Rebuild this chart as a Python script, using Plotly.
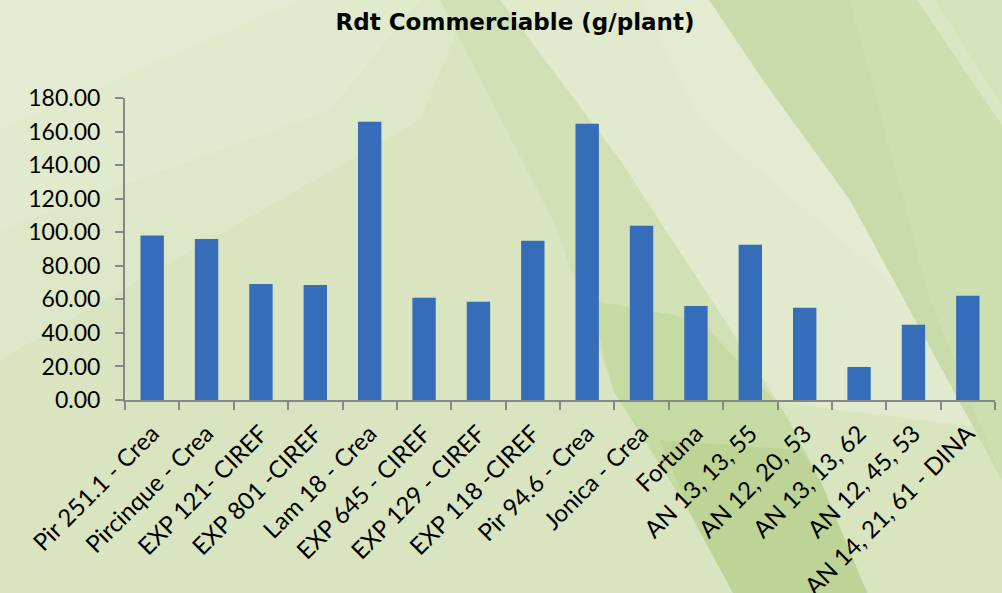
import plotly.graph_objects as go

varieties = [
    "Pir 251.1 - Crea", "Pircinque - Crea", "EXP 121- CIREF", "EXP 801 -CIREF",
    "Lam 18 - Crea", "EXP 645 - CIREF", "EXP 129 - CIREF", "EXP 118 -CIREF",
    "Pir 94.6 - Crea", "Jonica - Crea", "Fortuna", "AN 13, 13, 55",
    "AN 12, 20, 53", "AN 13, 13, 62", "AN 12, 45, 53", "AN 14, 21, 61 - DINA",
]
rdt = [98.0, 96.0, 69.2, 68.6, 165.9, 60.9, 58.5, 94.9,
       164.7, 103.8, 56.1, 92.5, 55.0, 19.7, 44.8, 62.1]

W, H = 1002, 593
L, R, T, B = 125, 7, 98, 193
pw, ph = W - L - R, H - T - B


def to_paper(pts):
    # pixel coords -> paper coords, used only for the background decoration
    return [((x - L) / pw, (H - B - y) / ph) for x, y in pts]


def band(pts, color):
    pp = to_paper(pts)
    path = "M " + " L ".join(f"{x:.4f},{y:.4f}" for x, y in pp) + " Z"
    return dict(type="path", path=path, xref="paper", yref="paper",
                fillcolor=color, line=dict(width=0), layer="below")


shapes = [
    # left part, lighter toward the top-left corner
    band([(0, 0), (470, 0), (420, 120), (0, 360)], "#dde8c8"),
    band([(0, 0), (420, 0), (330, 110), (0, 230)], "#e0eacd"),
    band([(0, 0), (300, 0), (0, 130)], "#e3ecd2"),
    # light middle band
    band([(480, 0), (709, 0), (763, 80), (850, 200), (1002, 480), (1002, 593),
          (867, 593), (820, 480), (783, 410), (620, 160), (560, 80)], "#e1eacd"),
    band([(640, 0), (709, 0), (763, 80), (850, 200), (900, 290), (700, 120)], "#e3ecd1"),
    band([(760, 400), (1002, 430), (1002, 593), (867, 593)], "#d8e5be"),
    # darker band A
    band([(440, 0), (500, 0), (560, 80), (620, 160), (783, 410), (820, 480), (867, 593),
          (733, 593), (690, 513), (613, 390), (556, 227)], "#d2e1b5"),
    band([(590, 300), (700, 320), (783, 410), (820, 480), (867, 593),
          (733, 593), (690, 513), (613, 390)], "#c6daa4"),
    band([(660, 440), (800, 450), (820, 480), (867, 593), (733, 593), (690, 513)], "#bed496"),
    # darker band B at the top right
    band([(709, 0), (917, 0), (1002, 120), (1002, 480), (850, 200), (763, 80)], "#c9dbaa"),
    band([(850, 0), (917, 0), (1002, 120), (1002, 480), (930, 300)], "#cddeb0"),
    band([(917, 0), (935, 0), (1002, 105), (1002, 125)], "#dbe7c4"),
    band([(935, 0), (1002, 0), (1002, 105)], "#d5e3bb"),
]

fig = go.Figure(go.Bar(
    x=varieties, y=rdt,
    marker=dict(color="#356db8", line=dict(width=0)),
))

xfont = dict(family="Lato, Carlito, Calibri, sans-serif", size=24, color="#000000")
yfont = dict(family="Lato, Carlito, Calibri, sans-serif", size=23, color="#000000")

fig.update_layout(
    width=W, height=H,
    margin=dict(l=L, r=R, t=T, b=B),
    paper_bgcolor="#d8e5c0",
    plot_bgcolor="rgba(0,0,0,0)",
    shapes=shapes,
    bargap=0.57,
    showlegend=False,
    title=dict(
        text="<b>Rdt Commerciable (g/plant)</b>",
        font=dict(family="DejaVu Sans, Arial, sans-serif", size=23, color="#000000"),
        x=515 / W, xanchor="center", xref="container",
        y=1 - 22 / H, yanchor="middle", yref="container",
    ),
    xaxis=dict(
        tickangle=-45, tickfont=xfont, ticklabelstandoff=8,
        showline=True, linecolor="#878787", linewidth=2,
        ticks="outside", tickson="boundaries", ticklen=8, tickcolor="#878787", tickwidth=2,
        showgrid=False, automargin=False,
    ),
    yaxis=dict(
        range=[0, 180], dtick=20, tickformat=".2f", tickfont=yfont, ticklabelstandoff=10,
        showline=True, linecolor="#878787", linewidth=2,
        ticks="outside", ticklen=8, tickcolor="#878787", tickwidth=2,
        showgrid=False, zeroline=False, automargin=False,
    ),
)

fig.write_html("out.html", config={"displayModeBar": False},
               post_script="document.body.style.margin='0';")
